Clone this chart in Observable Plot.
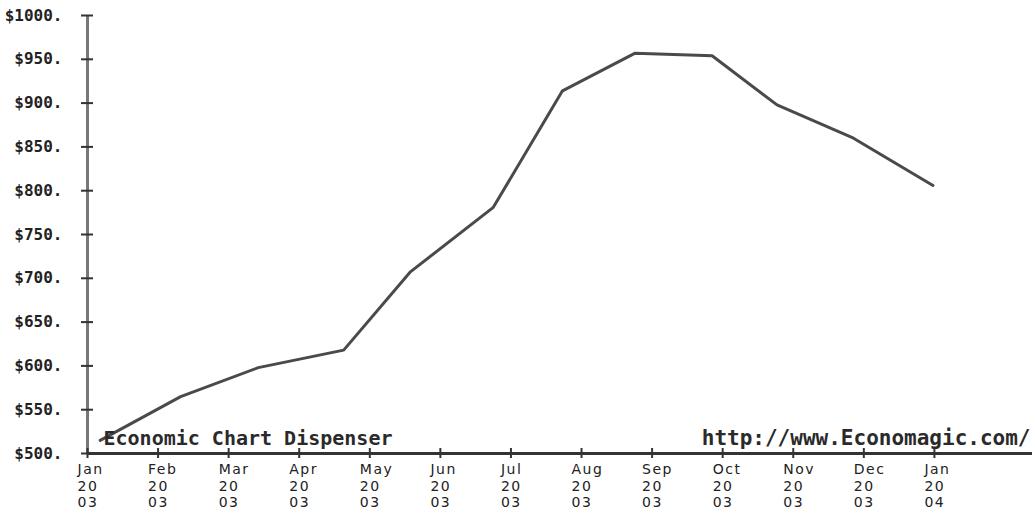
<!DOCTYPE html>
<html><head><meta charset="utf-8">
<script src="https://cdn.jsdelivr.net/npm/d3@7"></script>
<script src="https://cdn.jsdelivr.net/npm/@observablehq/plot@0.6"></script>
<style>html,body{margin:0;padding:0;background:#fff;}</style>
</head><body><div id="chart"></div>
<script>
// Data positions are in months since Jan 2003
const monthPos = [0.18, 1.32, 2.42, 3.63, 4.57, 5.75, 6.73, 7.76, 8.85, 9.77, 10.83, 11.98];
const prices   = [515, 565, 598, 618, 707, 781, 914, 957, 954, 898, 861, 806];

const tickMonths = [0, 1, 2, 3, 4, 5, 6, 7, 8, 9, 10, 11, 12];
const monthNames = ["Jan","Feb","Mar","Apr","May","Jun","Jul","Aug","Sep","Oct","Nov","Dec","Jan"];
const yearNames  = ["2003","2003","2003","2003","2003","2003","2003","2003","2003","2003","2003","2003","2004"];
const yTicks = [500, 550, 600, 650, 700, 750, 800, 850, 900, 950, 1000];

const leftNote = "Economic Chart Dispenser";
const rightNote = "http://www.Economagic.com/";

const data = monthPos.map((m, i) => ({m, v: prices[i]}));
const fmtX = d => `${monthNames[d]}\n${yearNames[d].slice(0, 2)}\n${yearNames[d].slice(2)}`;

const chart = Plot.plot({
  width: 1035,
  height: 516,
  marginLeft: 87,
  marginRight: 3,
  marginTop: 15,
  marginBottom: 63,
  style: {background: "#fff", fontFamily: "'DejaVu Sans Mono', monospace", overflow: "visible"},
  x: {type: "linear", domain: [0, 13.39]},
  y: {domain: [500, 1000]},
  marks: [
    Plot.ruleX([0], {stroke: "#777", strokeWidth: 3}),
    Plot.ruleY([500], {stroke: "#333", strokeWidth: 3}),
    Plot.axisY(yTicks, {tickSize: 12, dx: 6, fill: "none", stroke: "#333", strokeWidth: 2, label: null}),
    Plot.axisY(yTicks, {tickSize: 0, tickPadding: 25, tickFormat: d => `$${d}.`, fontSize: 16, fontWeight: "bold", fill: "#222", label: null}),
    Plot.axisX(tickMonths, {tickSize: 10, dy: -5, fill: "none", stroke: "#333", strokeWidth: 2, label: null}),
    Plot.axisX(tickMonths, {tickSize: 0, tickPadding: 9, tickFormat: fmtX, textAnchor: "start", dx: -10, lineHeight: 1.17, fontSize: 14, fontFamily: "'DejaVu Sans', sans-serif", fill: "#222", label: null}),
    Plot.line(data, {x: "m", y: "v", stroke: "#4a4a4a", strokeWidth: 3, strokeLinejoin: "round"}),
    Plot.text([leftNote], {text: d => d, frameAnchor: "bottom-left", dx: 16, dy: -9, textAnchor: "start", lineAnchor: "bottom", fontSize: 20, fontWeight: "bold", fill: "#2a2a2a"}),
    Plot.text([rightNote], {text: d => d, frameAnchor: "bottom-right", dx: -2, dy: -9, textAnchor: "end", lineAnchor: "bottom", fontSize: 21, fontWeight: "bold", fill: "#2a2a2a"})
  ]
});
d3.select(chart).selectAll('g[aria-label="x-axis tick label"] text').style("letter-spacing", "1.5px");
document.getElementById("chart").append(chart);
</script>
</body></html>
